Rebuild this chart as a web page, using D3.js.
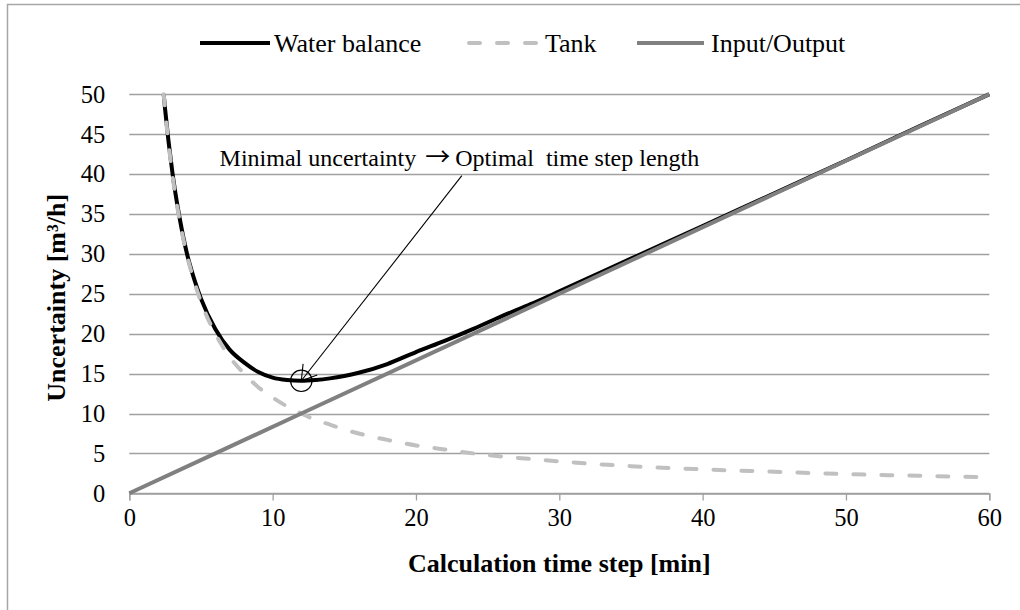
<!DOCTYPE html>
<html>
<head>
<meta charset="utf-8">
<script src="https://cdn.jsdelivr.net/npm/d3@7"></script>
<style>
  body { margin: 0; background: #fff; }
  text { font-family: "Liberation Serif", "Times New Roman", serif; fill: #000; }
</style>
</head>
<body>
<div class="chart"></div>
<script>
// values
var stepX = [2.4, 2.5, 3, 3.5, 4, 4.5, 5, 6, 7, 8, 9, 10, 11, 12, 13, 14, 15, 16, 18, 20, 22, 24, 26, 28, 30, 35, 40, 45, 50, 55, 60];
var waterBalance = [50, 48.1, 40.3, 34.6, 30.2, 27, 24.4, 20.6, 18, 16.4, 15.2, 14.5, 14.2, 14.1, 14.2, 14.4, 14.7, 15.1, 16.2, 17.7, 19.1, 20.6, 22.2, 23.7, 25.3, 29.4, 33.5, 37.6, 41.7, 45.9, 50];
var tank = [50, 48, 40, 34.3, 30, 26.7, 24, 20, 17.1, 15, 13.3, 12, 10.9, 10, 9.2, 8.6, 8, 7.5, 6.7, 6, 5.5, 5, 4.6, 4.3, 4, 3.4, 3, 2.7, 2.4, 2.2, 2];
var ioX = [0, 12, 30, 60];
var inputOutput = [0, 10, 25, 50];

var xTicks = [0, 10, 20, 30, 40, 50, 60];
var yTicks = [0, 5, 10, 15, 20, 25, 30, 35, 40, 45, 50];

var seriesNames = ["Water balance", "Tank", "Input/Output"];
var optimum = [12, 14.1];        // minimal uncertainty point
var noteFrom = [23.2, 39.8];     // arrow tail
var noteText = [6.3, 41];        // label anchor
var noteParts = ["Minimal uncertainty", "\u2192", "Optimal  time step length"];

var width = 1020,
height = 610;

var svg = d3.select("div.chart")
	.append("svg")
	.attr("width", width)
	.attr("height", height);

// chart frame (cropped on the right and bottom)
svg.append("rect")
	.attr("x", 7.5)
	.attr("y", 4.5)
	.attr("width", width + 10)
	.attr("height", height + 10)
	.attr("fill", "none")
	.attr("stroke", "#a6a6a6")
	.attr("stroke-width", 1.5);

var x = d3.scaleLinear()
	.domain([0, 60])
	.range([129.3, 989.3]);

var y = d3.scaleLinear()
	.domain([0, 50])
	.range([493.3, 94.3]);

var gridLayer = svg.append("g");
var lineLayer = svg.append("g");
var noteLayer = svg.append("g");

gridLayer.selectAll(".grid")
	.data(yTicks)
	.enter().append("line")
	.attr("x1", x(0))
	.attr("x2", x(60))
	.attr("y1", function(d) { return Math.round(y(d)) + 0.5; })
	.attr("y2", function(d) { return Math.round(y(d)) + 0.5; })
	.attr("stroke", "#a0a0a0")
	.attr("stroke-width", 1.3);

var xAxis = gridLayer.append("g")
	.attr("transform", "translate(0," + (Math.round(y(0)) + 0.5) + ")")
	.call(d3.axisBottom(x).tickValues(xTicks).tickSize(7).tickPadding(8).tickFormat(d3.format("d")));
xAxis.select(".domain").attr("stroke", "#a0a0a0").attr("stroke-width", 1.3);
xAxis.selectAll(".tick line").attr("stroke", "#a0a0a0").attr("stroke-width", 1.3);
xAxis.selectAll("text")
	.attr("font-size", "24.5px")
	.style("font-family", "'Liberation Serif', 'Times New Roman', serif")
	.attr("fill", "#000");

var yAxis = gridLayer.append("g")
	.attr("transform", "translate(" + x(0) + ",0)")
	.call(d3.axisLeft(y).tickValues(yTicks).tickSize(0).tickPadding(24));
yAxis.select(".domain").remove();
yAxis.selectAll("text")
	.attr("font-size", "24.5px")
	.style("font-family", "'Liberation Serif', 'Times New Roman', serif")
	.attr("fill", "#000");

// axis titles
svg.append("text")
	.attr("x", (x(0) + x(60)) / 2)
	.attr("y", 572)
	.attr("text-anchor", "middle")
	.attr("font-size", "26px")
	.attr("font-weight", "bold")
	.text("Calculation time step [min]");

svg.append("text")
	.attr("transform", "translate(65," + ((y(0) + y(50)) / 2 + 4) + ") rotate(-90)")
	.attr("text-anchor", "middle")
	.attr("font-size", "26px")
	.attr("font-weight", "bold")
	.text("Uncertainty [m\u00b3/h]");

// series
var curve = d3.line()
	.x(function(d) { return x(d[0]); })
	.y(function(d) { return y(d[1]); })
	.curve(d3.curveMonotoneX);

lineLayer.append("path")
	.attr("d", curve(d3.zip(stepX, waterBalance)))
	.attr("stroke", "#000")
	.attr("stroke-width", 4)
	.attr("fill", "none");

lineLayer.append("path")
	.attr("d", curve(d3.zip(stepX, tank)))
	.attr("stroke", "#c0c0c0")
	.attr("stroke-width", 4)
	.attr("stroke-dasharray", "11 17")
	.attr("stroke-linecap", "round")
	.attr("fill", "none");

lineLayer.append("path")
	.attr("d", curve(d3.zip(ioX, inputOutput)))
	.attr("stroke", "#808080")
	.attr("stroke-width", 4)
	.attr("fill", "none");

// annotation
var px = x(optimum[0]), py = y(optimum[1]);
noteLayer.append("circle")
	.attr("cx", px)
	.attr("cy", py)
	.attr("r", 10.7)
	.attr("fill", "none")
	.attr("stroke", "#000")
	.attr("stroke-width", 1.2);

var tx = x(noteFrom[0]), ty = y(noteFrom[1]);
var ang = Math.atan2(ty - py, tx - px),
head = 17,
spread = 32 * Math.PI / 180;
noteLayer.append("line")
	.attr("x1", tx).attr("y1", ty)
	.attr("x2", px).attr("y2", py)
	.attr("stroke", "#000")
	.attr("stroke-width", 1.1);
noteLayer.append("path")
	.attr("d", "M" + (px + head * Math.cos(ang - spread)) + "," + (py + head * Math.sin(ang - spread)) +
		"L" + px + "," + py +
		"L" + (px + head * Math.cos(ang + spread)) + "," + (py + head * Math.sin(ang + spread)))
	.attr("stroke", "#000")
	.attr("stroke-width", 1.1)
	.attr("fill", "none");

var note = noteLayer.append("text")
	.attr("x", x(noteText[0]))
	.attr("y", y(noteText[1]))
	.attr("font-size", "24px")
	.style("white-space", "pre");
note.append("tspan").text(noteParts[0]);
note.append("tspan")
	.attr("dx", 9)
	.style("font-family", "'Noto Sans CJK JP', sans-serif")
	.attr("font-size", "25px")
	.text(noteParts[1]);
note.append("tspan")
	.attr("dx", 5)
	.text(noteParts[2]);

// legend
var legendItems = [
	{ x1: 200, x2: 270, tx: 274, color: "#000", dash: null },
	{ x1: 469, x2: 536, tx: 545, color: "#c0c0c0", dash: "11 17" },
	{ x1: 637, x2: 704, tx: 711, color: "#808080", dash: null }
];
var legend = svg.append("g");
legendItems.forEach(function(d, i) {
	legend.append("line")
		.attr("x1", d.x1).attr("x2", d.x2)
		.attr("y1", 43).attr("y2", 43)
		.attr("stroke", d.color)
		.attr("stroke-width", 4)
		.attr("stroke-dasharray", d.dash)
		.attr("stroke-linecap", d.dash ? "round" : "butt");
	legend.append("text")
		.attr("x", d.tx)
		.attr("y", 52)
		.attr("font-size", "26px")
		.text(seriesNames[i]);
});
</script>
</body>
</html>
